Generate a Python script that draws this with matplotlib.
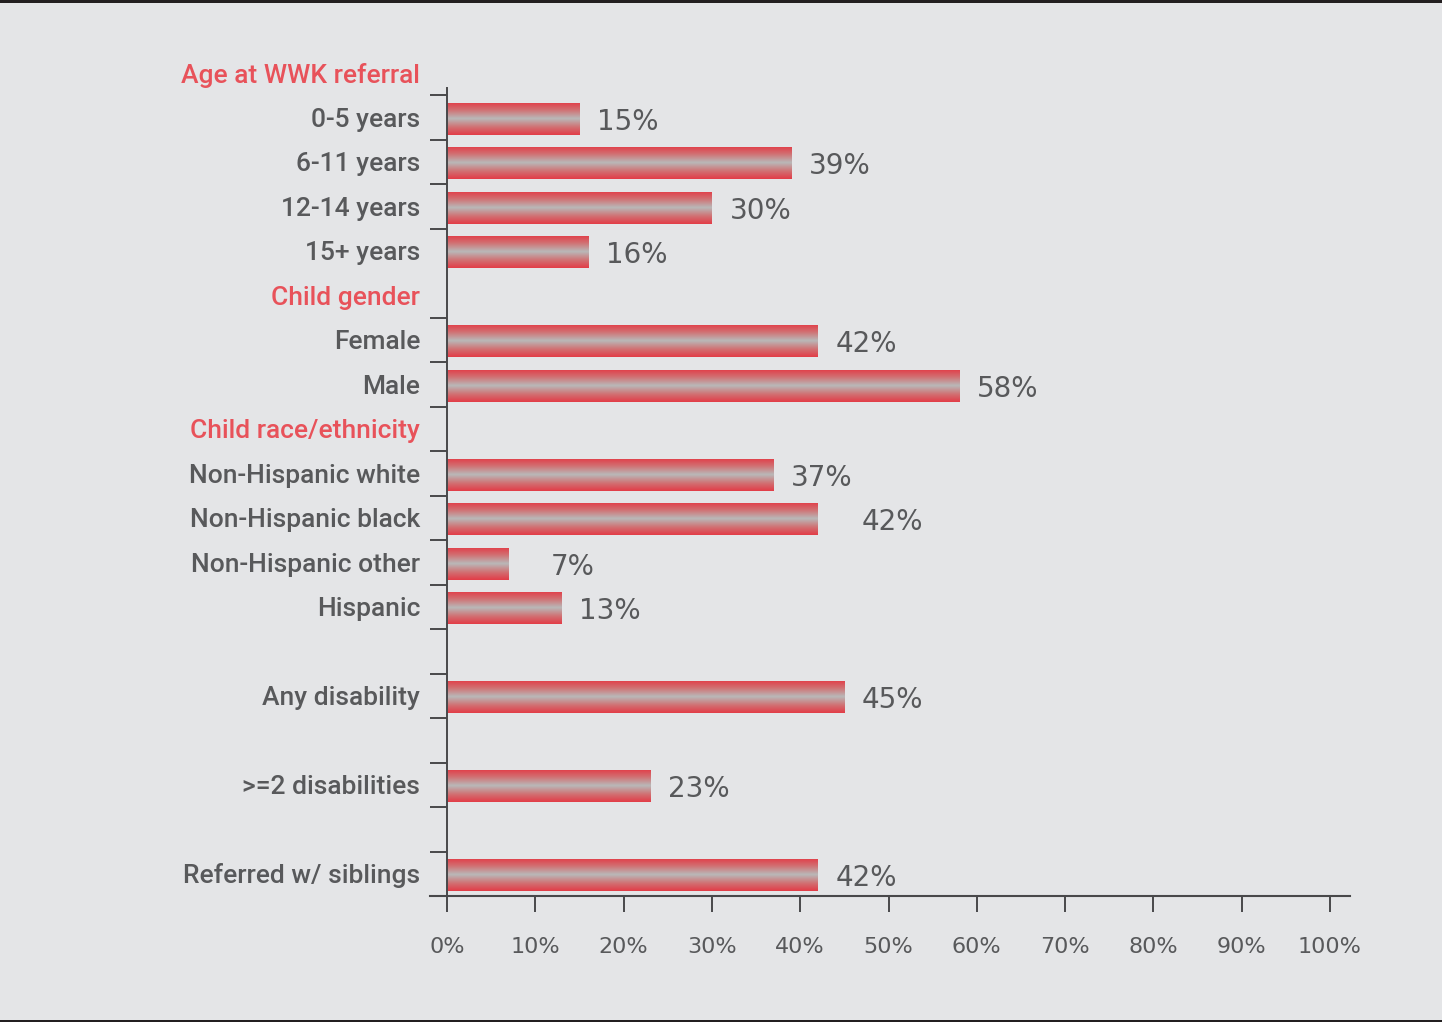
import numpy as np
import matplotlib.pyplot as plt
from matplotlib.colors import LinearSegmentedColormap
from matplotlib.lines import Line2D
from matplotlib.patches import Rectangle

# rows top to bottom; None marks a section header or a spacer row
rows = ["Age at WWK referral", "0-5 years", "6-11 years", "12-14 years", "15+ years",
        "Child gender", "Female", "Male",
        "Child race/ethnicity", "Non-Hispanic white", "Non-Hispanic black",
        "Non-Hispanic other", "Hispanic",
        "", "Any disability", "", ">=2 disabilities", "", "Referred w/ siblings"]
values = [None, 15, 39, 30, 16,
          None, 42, 58,
          None, 37, 42, 7, 13,
          None, 45, None, 23, None, 42]
headers = ["Age at WWK referral", "Child gender", "Child race/ethnicity"]
xticks = list(range(0, 101, 10))
xtick_labels = [f"{t}%" for t in xticks]

BG = "#e4e5e7"
GREY = "#58595b"
RED = "#e8525a"
AXIS = "#48484a"

bar_cmap = LinearSegmentedColormap.from_list(
    "barfade", ["#e23d48", "#d07476", "#b9b9b9", "#d07476", "#e23d48"])
grad = np.linspace(0, 1, 64).reshape(-1, 1)

fig = plt.figure(figsize=(14.42, 10.22), dpi=100, facecolor=BG)
ax = fig.add_axes([447 / 1442, 1 - 896 / 1022, 883 / 1442, 808 / 1022])
ax.set_facecolor(BG)

ypos = np.arange(len(rows))
bar_h = 0.72
extra_pad = {"Non-Hispanic black": 3.0, "Non-Hispanic other": 2.8}

for y, name, v in zip(ypos, rows, values):
    if name in headers:
        ax.text(-3.05, y + 0.05, name, ha="right", va="center", color=RED,
                fontsize=19, family="Roboto", fontweight="medium")
        continue
    if v is None:
        continue
    ax.text(-3.05, y + 0.05, name, ha="right", va="center", color=GREY,
            fontsize=19, family="Roboto", fontweight="medium")
    rect = ax.barh(y + 0.03, v, height=bar_h, color="none", edgecolor="none")[0]
    im = ax.imshow(grad, cmap=bar_cmap, aspect="auto",
                   extent=[0, v, y + 0.03 + bar_h / 2, y + 0.03 - bar_h / 2],
                   interpolation="bilinear", zorder=2)
    im.set_clip_path(rect)
    ax.text(v + 2.0 + extra_pad.get(name, 0), y + 0.1, f"{v}%",
            ha="left", va="center", color=GREY, fontsize=20, family="DejaVu Sans")

ax.set_xlim(0, 100)
ax.set_ylim(18.5, 0.34)

# row separators on the left of the axis (none below "15+ years")
seps = [k + 0.5 for k in range(18) if k != 4]
ax.set_yticks(seps)
ax.set_yticklabels([])
ax.tick_params(axis="y", direction="out", length=12, width=1.4, color=AXIS)

ax.set_xticks(xticks)
ax.set_xticklabels(xtick_labels, fontsize=16, color=GREY, family="DejaVu Sans")
ax.tick_params(axis="x", direction="out", length=11.5, width=1.4, color=AXIS, pad=18)

for s in ["top", "right", "bottom"]:
    ax.spines[s].set_visible(False)
ax.spines["left"].set_color(AXIS)
ax.spines["left"].set_linewidth(1.4)

# x axis line runs a little past both ends
ax.add_line(Line2D([-0.019, 1.0226], [0, 0], transform=ax.transAxes,
                   color=AXIS, lw=1.5, clip_on=False))

# dark rules at the top and bottom edges
fig.add_artist(Rectangle((0, 1 - 3 / 1022), 1, 3 / 1022, transform=fig.transFigure,
                         color="#231f20", lw=0))
fig.add_artist(Rectangle((0, 0), 1, 2 / 1022, transform=fig.transFigure,
                         color="#231f20", lw=0))

fig.savefig("out.png", dpi=100, facecolor=BG)
